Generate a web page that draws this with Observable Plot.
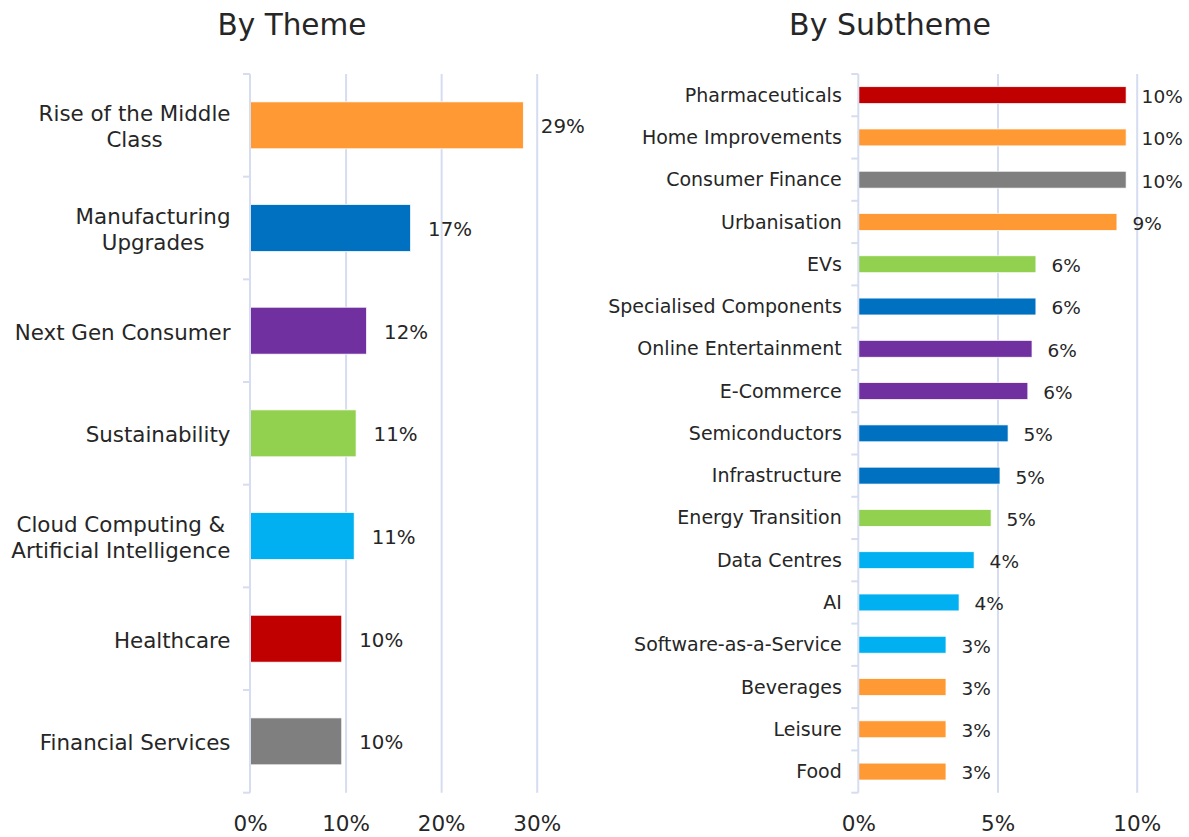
<!DOCTYPE html>
<html>
<head>
<meta charset="utf-8">
<script src="https://cdn.jsdelivr.net/npm/d3@7"></script>
<script src="https://cdn.jsdelivr.net/npm/@observablehq/plot@0.6"></script>
<style>
  html, body { margin: 0; padding: 0; background: #ffffff; }
  #wrap { position: relative; width: 1189px; height: 837px; font-family: "DejaVu Sans", sans-serif; color: #262626; }
  .title { position: absolute; top: 5px; height: 40px; line-height: 40px; text-align: center; font-size: 29.5px; }
  .panel { position: absolute; top: 48px; }
</style>
</head>
<body>
<div id="wrap">
  <div class="title" style="left:0;width:584px;">By Theme</div>
  <div class="title" style="left:595px;width:590px;font-size:30px;">By Subtheme</div>
  <div class="panel" id="left" style="left:0;"></div>
  <div class="panel" id="right" style="left:595px;"></div>
</div>
<script>
// ---- Data ----
const themes = ["Rise of the Middle Class", "Manufacturing Upgrades", "Next Gen Consumer", "Sustainability", "Cloud Computing & Artificial Intelligence", "Healthcare", "Financial Services"];
const themeLabels = ["Rise of the Middle\nClass", "Manufacturing\nUpgrades", "Next Gen Consumer", "Sustainability", "Cloud Computing &\nArtificial Intelligence", "Healthcare", "Financial Services"];
const themeValues = [0.286, 0.168, 0.122, 0.111, 0.109, 0.096, 0.096];
const themeColors = ["#FF9933", "#0070C0", "#7030A0", "#92D050", "#00B0F0", "#C00000", "#7F7F7F"];

const subthemes = ["Pharmaceuticals", "Home Improvements", "Consumer Finance", "Urbanisation", "EVs", "Specialised Components", "Online Entertainment", "E-Commerce", "Semiconductors", "Infrastructure", "Energy Transition", "Data Centres", "AI", "Software-as-a-Service", "Beverages", "Leisure", "Food"];
const subthemeValues = [0.0962, 0.0962, 0.0962, 0.0929, 0.0638, 0.0638, 0.0624, 0.0609, 0.0538, 0.0509, 0.0477, 0.0416, 0.0362, 0.0315, 0.0315, 0.0315, 0.0315];
const subthemeParents = ["Healthcare", "Rise of the Middle Class", "Financial Services", "Rise of the Middle Class", "Sustainability", "Manufacturing Upgrades", "Next Gen Consumer", "Next Gen Consumer", "Manufacturing Upgrades", "Manufacturing Upgrades", "Sustainability", "Cloud Computing & Artificial Intelligence", "Cloud Computing & Artificial Intelligence", "Cloud Computing & Artificial Intelligence", "Rise of the Middle Class", "Rise of the Middle Class", "Rise of the Middle Class"];

const themeTicks = [0, 0.1, 0.2, 0.3];
const subthemeTicks = [0, 0.05, 0.1];

// ---- Styling ----
const gridColor = "#D6DDF0";
const textColor = "#262626";
const fontFamily = "DejaVu Sans, sans-serif";
const pct = d3.format(".0%");

const themeData = themes.map((name, i) => ({name, label: themeLabels[i], value: themeValues[i]}));
const subData = subthemes.map((name, i) => ({name, label: name, value: subthemeValues[i], parent: subthemeParents[i]}));

function bandAxis(n) {
  return (index, scales, values, dims) => {
    const x0 = scales.x(0);
    const top = dims.marginTop, bottom = dims.height - dims.marginBottom;
    const step = (bottom - top) / n;
    const g = d3.create("svg:g").attr("stroke", gridColor).attr("fill", "none").attr("stroke-width", 2);
    g.append("line").attr("x1", x0).attr("x2", x0).attr("y1", top).attr("y2", bottom);
    for (let i = 0; i <= n; i++) {
      const y = top + i * step;
      g.append("line").attr("x1", x0 - 7).attr("x2", x0).attr("y1", y).attr("y2", y);
    }
    return g.node();
  };
}

function centerLines(svg) {
  for (const t of svg.querySelectorAll("text")) {
    const spans = t.querySelectorAll("tspan");
    if (spans.length < 2) continue;
    const widths = Array.from(spans, s => s.getComputedTextLength());
    const maxW = Math.max(...widths);
    const x0 = +(spans[0].getAttribute("x") || 0);
    t.setAttribute("text-anchor", "middle");
    spans.forEach(s => s.setAttribute("x", x0 - maxW / 2));
  }
}

const left = Plot.plot({
  width: 595, height: 789,
  marginLeft: 250, marginRight: 58.3, marginTop: 26, marginBottom: 44.3,
  style: {fontFamily, fontSize: "21.5px", color: textColor, background: "transparent"},
  x: {domain: [0, 0.3], ticks: themeTicks, tickFormat: ".0%", tickSize: 0, tickPadding: 23, label: null},
  y: {domain: themes, paddingInner: 0.543, paddingOuter: 0.2715, round: false, axis: null},
  color: {domain: themes, range: themeColors},
  marks: [
    Plot.ruleX(themeTicks.slice(1), {stroke: gridColor, strokeWidth: 2}),
    Plot.barX(themeData, {x: "value", y: "name", fill: "name", stroke: "white", strokeWidth: 0.75}),
    bandAxis(themes.length),
    Plot.text(themeData, {x: "value", y: "name", text: d => pct(d.value), textAnchor: "start", dx: 17, dy: 1, fontSize: 19.8, fill: textColor}),
    Plot.text(themeData, {x: 0, y: "name", text: "label", textAnchor: "end", dx: -20, fontSize: 21.4, lineHeight: 1.22, fill: textColor})
  ]
});
document.getElementById("left").appendChild(left);
centerLines(left);

const right = Plot.plot({
  width: 594, height: 789,
  marginLeft: 263.3, marginRight: 52.3, marginTop: 26, marginBottom: 44.3,
  style: {fontFamily, fontSize: "21.5px", color: textColor, background: "transparent"},
  x: {domain: [0, 0.1], ticks: subthemeTicks, tickFormat: ".0%", tickSize: 0, tickPadding: 23, label: null},
  y: {domain: subthemes, paddingInner: 0.6, paddingOuter: 0.3, round: false, axis: null},
  color: {domain: themes, range: themeColors},
  marks: [
    Plot.ruleX(subthemeTicks.slice(1), {stroke: gridColor, strokeWidth: 2}),
    Plot.barX(subData, {x: "value", y: "name", fill: "parent", stroke: "white", strokeWidth: 0.75}),
    bandAxis(subthemes.length),
    Plot.text(subData, {x: "value", y: "name", text: d => pct(d.value), textAnchor: "start", dx: 15, dy: 1.5, fontSize: 18.5, fill: textColor}),
    Plot.text(subData, {x: 0, y: "name", text: "label", textAnchor: "end", dx: -17, fontSize: 19, fill: textColor})
  ]
});
document.getElementById("right").appendChild(right);
</script>
</body>
</html>
